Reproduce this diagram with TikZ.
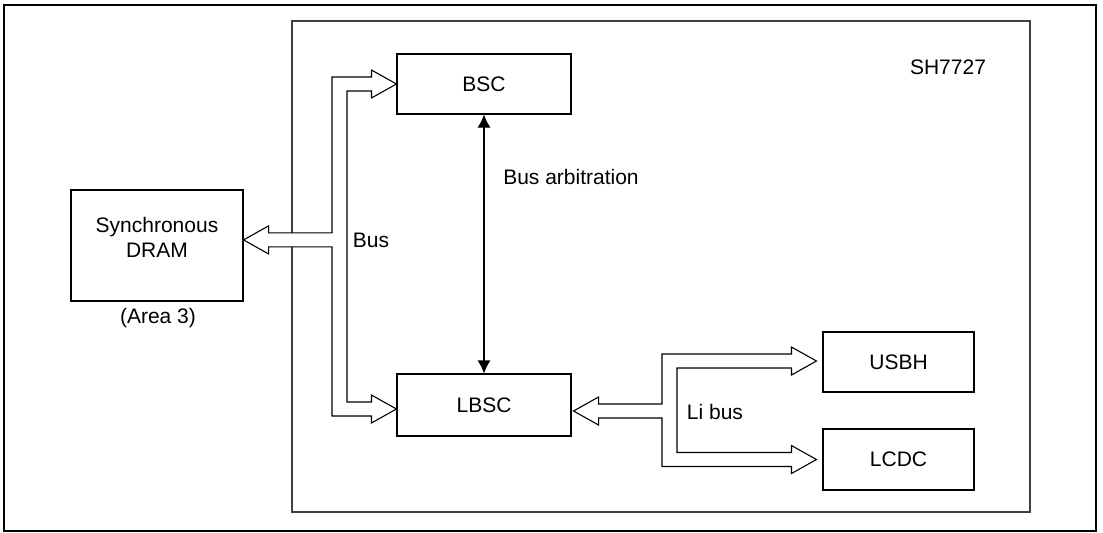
\documentclass[tikz,border=0pt]{standalone}
\usepackage{fontspec}
\setmainfont{Liberation Sans}
\usetikzlibrary{calc,arrows.meta}
\begin{document}
\begin{tikzpicture}[
    x=0.5pt, y=-0.5pt,
    every node/.style={font=\fontsize{10.5}{12.5}\selectfont},
    box/.style={draw, line width=0.55pt, inner sep=0pt},
    lab/.style={align=center, inner sep=0pt},
    fatbus/.style={draw, fill=white, line width=0.55pt, line join=miter},
    arb/.style={<->, line width=0.55pt, >={Latex[length=6.5pt, width=6.5pt]}}
  ]
    \useasboundingbox (0,0) rectangle (1103,532);
    \draw[line width=1pt] (4,5) rectangle (1096,531);
    \draw[line width=0.6pt, black!75] (292,21) rectangle (1030,512);
    \node[lab] (chip) at (948,67) {SH7727};

    \node[box, minimum width=86pt, minimum height=55.5pt] (sdram) at (157,245.5) {};
    \node[lab] (sdramtxt) at (157,237.5) {Synchronous\\DRAM};
    \node[lab] (area) at ($(sdram.south)+(1,17)$) {(Area 3)};
    \node[box, minimum width=87pt, minimum height=30pt] (bsc) at (484,84) {BSC};
    \node[box, minimum width=87pt, minimum height=31pt] (lbsc) at (484,405) {LBSC};
    \node[box, minimum width=75.5pt, minimum height=30pt] (usbh) at (898.5,362) {USBH};
    \node[box, minimum width=75.5pt, minimum height=30.5pt] (lcdc) at (898.5,459.5) {LCDC};

    \coordinate (sdtip) at ($(sdram.north east)!0.45!(sdram.south east)$);
    \coordinate (bstip) at (bsc.west);
    \coordinate (lbtip) at ($(lbsc.west)+(0,4)$);
    \coordinate (busL) at (332,0);
    \coordinate (busR) at (347,0);
    \draw[fatbus] (sdtip) -- ++(25,-14) -- ++(0,7)
      -| ($(busL |- bstip)+(0,-7)$) -- ($(bstip)+(-25,-7)$) -- ++(0,-7)
      -- (bstip) -- ++(-25,14) -- ++(0,-7)
      -| ($(busR |- lbtip)+(0,-7)$) -- ($(lbtip)+(-25,-7)$) -- ++(0,-7)
      -- (lbtip) -- ++(-25,14) -- ++(0,-7)
      -| ($(busL |- sdtip)+(0,7)$) -- ($(sdtip)+(25,7)$) -- ++(0,7) -- cycle;
    \node[lab] (bus) at (371,240) {Bus};

    \coordinate (lbR) at ($(lbsc.east)+(2,6)$);
    \coordinate (ustip) at ($(usbh.west)+(-6,-1)$);
    \coordinate (lctip) at ($(lcdc.west)+(-6,0)$);
    \coordinate (liL) at (662,0);
    \coordinate (liR) at (677,0);
    \draw[fatbus] (lbR) -- ++(25,-14) -- ++(0,7)
      -| ($(liL |- ustip)+(0,-7)$) -- ($(ustip)+(-25,-7)$) -- ++(0,-7)
      -- (ustip) -- ++(-25,14) -- ++(0,-7)
      -| ($(liR |- lctip)+(0,-7)$) -- ($(lctip)+(-25,-7)$) -- ++(0,-7)
      -- (lctip) -- ++(-25,14) -- ++(0,-7)
      -| ($(liL |- lbR)+(0,7)$) -- ($(lbR)+(25,7)$) -- ++(0,7) -- cycle;
    \node[lab] (libus) at (715,412) {Li bus};

    \draw[arb] (bsc.south) -- (lbsc.north);
    \node[lab] (arbtxt) at (571,177) {Bus arbitration};
  \end{tikzpicture}
\end{document}
